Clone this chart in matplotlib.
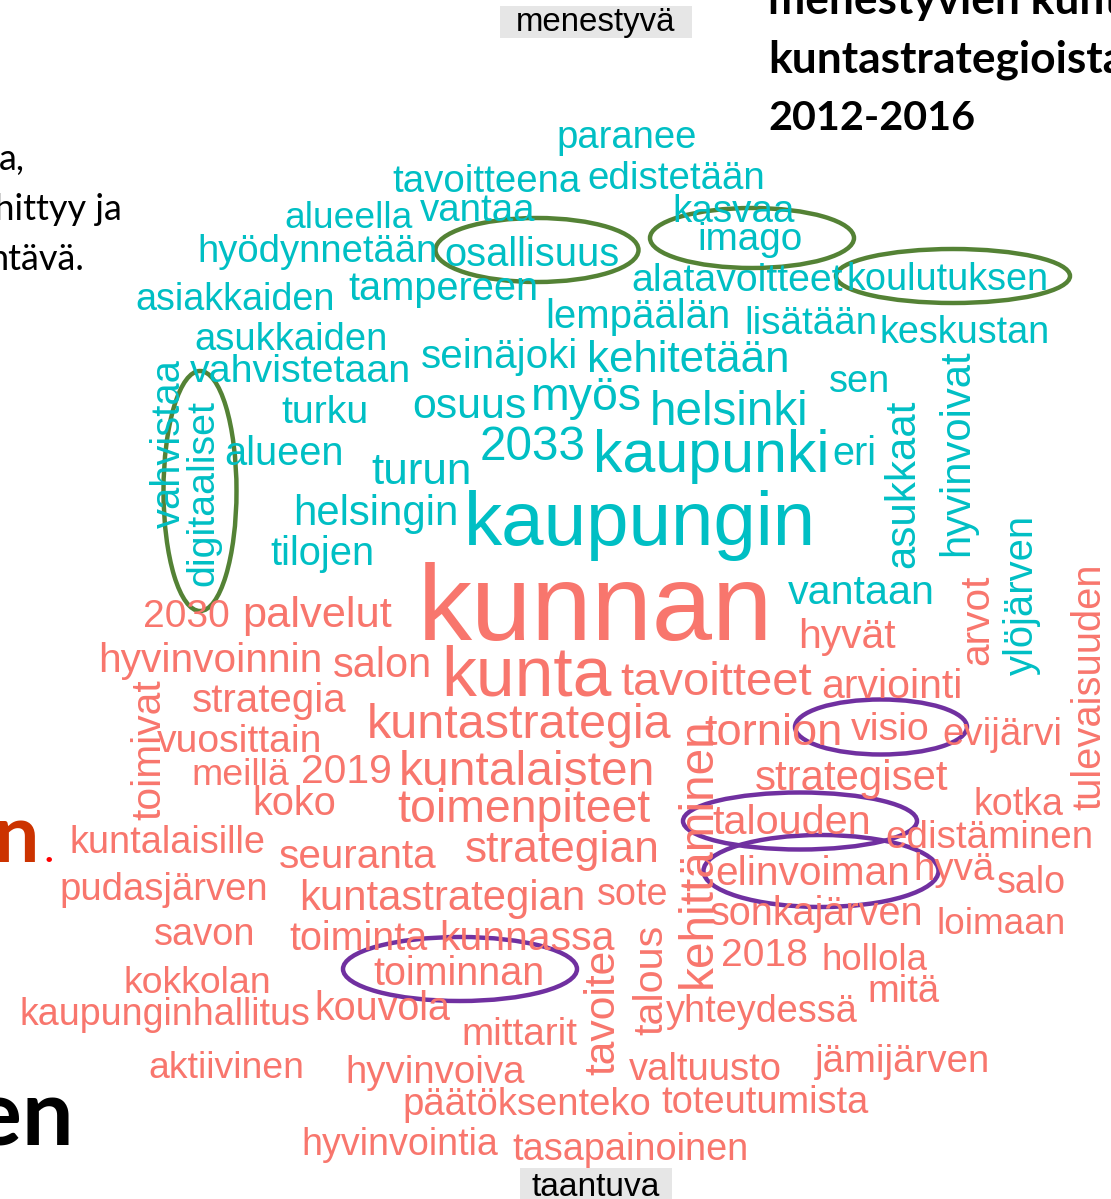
import matplotlib
matplotlib.use("Agg")
import matplotlib.pyplot as plt
from matplotlib.patches import Ellipse, Rectangle

# word cloud: menestyvä (teal, top) vs taantuva (salmon, bottom)
TEAL = '#00BFC4'
SALMON = '#F8766D'
FONT = 'Liberation Sans'

top_words = ['paranee', 'tavoitteena', 'edistetään', 'alueella', 'vantaa', 'kasvaa',
             'hyödynnetään', 'osallisuus', 'imago', 'asiakkaiden', 'tampereen',
             'alatavoitteet', 'koulutuksen', 'lempäälän', 'lisätään', 'keskustan',
             'asukkaiden', 'vahvistetaan', 'seinäjoki', 'kehitetään', 'sen', 'turku',
             'osuus', 'myös', 'helsinki', '2033', 'kaupunki', 'eri', 'alueen', 'turun',
             'helsingin', 'kaupungin', 'tilojen', 'vantaan']
top_vwords = ['vahvistaa', 'digitaaliset', 'asukkaat', 'hyvinvoivat', 'ylöjärven']

bot_words = ['kunnan', '2030', 'palvelut', 'hyvät', 'hyvinvoinnin', 'salon', 'kunta',
             'tavoitteet', 'arviointi', 'strategia', 'kuntastrategia', 'tornion', 'visio',
             'evijärvi', 'vuosittain', 'meillä', '2019', 'kuntalaisten', 'strategiset',
             'koko', 'toimenpiteet', 'kotka', 'talouden', 'edistäminen', 'kuntalaisille',
             'seuranta', 'strategian', 'elinvoiman', 'hyvä', 'salo', 'pudasjärven',
             'kuntastrategian', 'sote', 'sonkajärven', 'loimaan', 'savon', 'toiminta',
             'kunnassa', '2018', 'hollola', 'toiminnan', 'kokkolan', 'mitä',
             'kaupunginhallitus', 'kouvola', 'mittarit', 'yhteydessä', 'aktiivinen',
             'hyvinvoiva', 'valtuusto', 'jämijärven', 'päätöksenteko', 'toteutumista',
             'hyvinvointia', 'tasapainoinen']
bot_vwords = ['toimivat', 'kehittäminen', 'tavoite', 'talous', 'arvot', 'tulevaisuuden']

# layout (pixels): horizontal -> (left, right, baseline); vertical -> (left, top, bottom)
top_pos = [(557, 697, 148), (393, 580, 192), (588, 765, 189), (285, 413, 228),
           (420, 535, 221), (673, 795, 222), (198, 437, 262), (445, 620, 266),
           (697, 802, 250), (136, 335, 310), (349, 538, 300), (632, 843, 291),
           (847, 1048, 290), (545, 730, 328), (744, 877, 334), (880, 1050, 343),
           (195, 388, 350), (190, 410, 382), (421, 578, 368), (587, 789, 372),
           (829, 890, 392), (282, 369, 423), (412, 526, 418), (531, 642, 410),
           (650, 809, 425), (480, 586, 460), (593, 829, 472), (832, 876, 465),
           (224, 343, 465), (372, 472, 484), (293, 458, 525), (464, 815, 545),
           (270, 374, 565), (788, 934, 604)]
top_vpos = [(150, 360, 528), (185, 400, 586), (883, 400, 568), (937, 350, 556),
            (1003, 515, 675)]

bot_pos = [(418, 772, 640), (143, 230, 627), (243, 392, 627), (798, 895, 648),
           (99, 322, 672), (333, 432, 677), (441, 611, 695), (621, 812, 695),
           (821, 962, 698), (192, 346, 712), (367, 671, 738), (705, 843, 745),
           (851, 930, 740), (942, 1062, 745), (157, 322, 752), (191, 289, 785),
           (301, 392, 783), (399, 654, 785), (755, 948, 790), (252, 336, 815),
           (398, 650, 822), (973, 1063, 815), (713, 871, 834), (885, 1093, 848),
           (69, 265, 853), (279, 436, 868), (465, 659, 862), (716, 910, 885),
           (913, 994, 880), (997, 1066, 893), (60, 268, 900), (300, 585, 910),
           (597, 668, 905), (710, 923, 925), (937, 1066, 934), (154, 255, 945),
           (290, 428, 950), (440, 615, 950), (721, 808, 966), (821, 927, 970),
           (374, 545, 985), (123, 271, 993), (868, 940, 1002), (20, 310, 1025),
           (314, 450, 1020), (461, 577, 1045), (666, 857, 1022), (148, 304, 1078),
           (346, 525, 1083), (629, 781, 1080), (815, 990, 1072), (403, 651, 1115),
           (662, 868, 1113), (302, 498, 1155), (513, 748, 1160)]
bot_vpos = [(130, 680, 820), (676, 718, 988), (583, 950, 1075), (632, 925, 1035),
            (958, 575, 665), (1070, 565, 810)]

# highlight ellipses: (cx, cy, w, h)
green_ell = [(537, 250, 203, 64), (752, 238, 204, 60), (953, 276, 234, 54),
             (200, 491, 73, 240)]
purple_ell = [(881, 727, 172, 55), (800, 821, 234, 57), (821, 871, 235, 72),
              (460, 969, 234, 64)]

W, H = 1111, 1199
fig = plt.figure(figsize=(W / 100, H / 100), dpi=100)
ax = fig.add_axes([0, 0, 1, 1])
ax.set_xlim(0, W)
ax.set_ylim(H, 0)
ax.axis('off')
r = fig.canvas.get_renderer()


def fit(s, target, vertical=False, **kw):
    t = ax.text(0, 0, s, fontsize=20, **kw)
    bb = t.get_window_extent(r)
    t.set_fontsize(20 * target / (bb.height if vertical else bb.width))
    return t


def horiz(words, pos, color):
    for w, (x0, x1, y) in zip(words, pos):
        t = fit(w, x1 - x0, family=FONT, color=color, ha='center', va='baseline')
        t.set_position(((x0 + x1) / 2, y))


def vert(words, pos, color):
    for w, (x, y0, y1) in zip(words, pos):
        t = fit(w, y1 - y0, vertical=True, family=FONT, color=color,
                rotation=90, ha='left', va='bottom')
        t.set_position((x, y1))


horiz(top_words, top_pos, TEAL)
vert(top_vwords, top_vpos, TEAL)
horiz(bot_words, bot_pos, SALMON)
vert(bot_vwords, bot_vpos, SALMON)

for cx, cy, w, h in green_ell:
    ax.add_patch(Ellipse((cx, cy), w, h, fill=False, ec='#548235', lw=3.2))
for cx, cy, w, h in purple_ell:
    ax.add_patch(Ellipse((cx, cy), w, h, fill=False, ec='#7030A0', lw=3.2))

# group labels in gray boxes
ax.add_patch(Rectangle((500, 6), 192, 32, fc='#E6E6E6', ec='none', zorder=0))
t = fit('menestyvä', 159, family=FONT, ha='center', va='baseline')
t.set_position((596, 31))
ax.add_patch(Rectangle((520, 1168), 152, 35, fc='#E6E6E6', ec='none', zorder=0))
t = fit('taantuva', 128, family=FONT, ha='center', va='baseline')
t.set_position((596, 1196))

# slide text around the cloud (cut off by the crop)
title = ['menestyvien kuntien', 'kuntastrategioista', '2012-2016']
t = fit(title[1], 357, family='Lato', weight='bold', ha='left', va='baseline')
fs = t.get_fontsize()
t.set_position((768, 72))
ax.text(768, 14, title[0], family='Lato', weight='bold', fontsize=fs, va='baseline')
t = fit(title[2], 207, family='Lato', weight='bold', ha='left', va='baseline')
t.set_position((768, 130))

side = ['a,', 'kehittyy ja', 'ntävä.']
for s, x, y in zip(side, [25, 122, 84], [170, 220, 270]):
    ax.text(x, y, s, family='Lato', fontsize=26, ha='right', va='baseline')

ax.text(38, 862, 'n', family='Lato', weight='bold', fontsize=58, color='#CC3300',
        ha='right', va='baseline')
ax.text(44, 862, '.', family='Lato', weight='bold', fontsize=26, color='#FF0000',
        ha='left', va='baseline')
ax.text(74, 1145, 'en', family='Lato', weight='bold', fontsize=66, ha='right',
        va='baseline')

fig.savefig('out.png', dpi=100)
